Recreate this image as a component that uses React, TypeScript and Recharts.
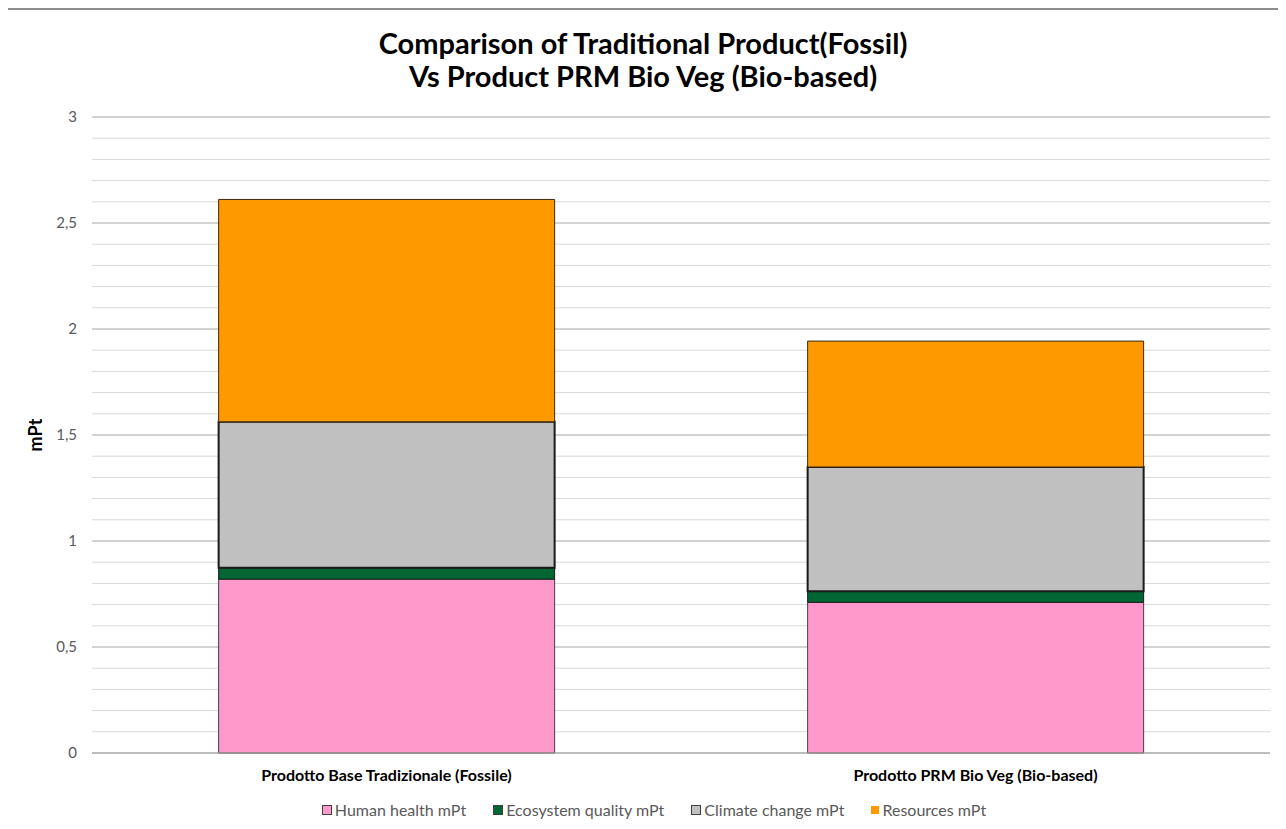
import React from 'react';
import { BarChart, Bar, XAxis, YAxis, CartesianGrid, Legend, Label } from 'recharts';

const categories = ['Prodotto Base Tradizionale (Fossile)', 'Prodotto PRM Bio Veg (Bio-based)'];
const humanHealth = [0.82, 0.711];
const ecosystemQuality = [0.054, 0.052];
const climateChange = [0.688, 0.586];
const resources = [1.049, 0.594];
const yTicks = [0, 0.1, 0.2, 0.3, 0.4, 0.5, 0.6, 0.7, 0.8, 0.9, 1, 1.1, 1.2, 1.3, 1.4, 1.5, 1.6, 1.7, 1.8, 1.9, 2, 2.1, 2.2, 2.3, 2.4, 2.5, 2.6, 2.7, 2.8, 2.9, 3];
const titleLines = ['Comparison of Traditional Product(Fossil)', 'Vs Product PRM Bio Veg (Bio-based)'];

const seriesDefs = [
  { key: 'hh', name: 'Human health mPt', color: '#FF99CC', stroke: '#404040', sw: 1 },
  { key: 'eq', name: 'Ecosystem quality mPt', color: '#006633', stroke: '#1a1a1a', sw: 1 },
  { key: 'cc', name: 'Climate change mPt', color: '#C0C0C0', stroke: '#1a1a1a', sw: 2 },
  { key: 'rs', name: 'Resources mPt', color: '#FF9900', stroke: '#3a2a10', sw: 1 },
];

const data = categories.map((c, i) => ({
  name: c,
  hh: humanHealth[i],
  eq: ecosystemQuality[i],
  cc: climateChange[i],
  rs: resources[i],
}));

const FONT = 'Lato, "Open Sans", sans-serif';

const isMajor = (v: number) => Math.abs(v * 2 - Math.round(v * 2)) < 1e-6;
const fmt = (v: number) => (isMajor(v) ? String(v).replace('.', ',') : '');

const LegendContent = () => (
  <div style={{ display: 'flex', justifyContent: 'center', fontFamily: FONT, fontSize: 16, color: '#595959', paddingLeft: 38, lineHeight: '20px' }}>
    {seriesDefs.map((s, i) => (
      <div key={s.key} style={{ display: 'flex', alignItems: 'center', marginRight: i === seriesDefs.length - 1 ? 0 : 27 }}>
        <span
          style={{
            display: 'inline-block',
            width: 8,
            height: 8,
            background: s.color,
            border: s.key === 'rs' ? 'none' : '1px solid #404040',
            marginRight: 3,
          }}
        />
        <span>{s.name}</span>
      </div>
    ))}
  </div>
);

const gridLine = (p: any) => (
  <line
    key={p.key ?? `g-${p.index}`}
    x1={p.x1}
    y1={p.y1}
    x2={p.x2}
    y2={p.y2}
    stroke={p.index % 5 === 0 ? '#a6a6a6' : '#d9d9d9'}
    strokeWidth={1}
  />
);

export default function App() {
  return (
    <div style={{ position: 'relative', width: 1286, height: 829, margin: -8, background: '#fff', overflow: 'hidden' }}>
      <div
        style={{
          position: 'absolute',
          left: 0,
          top: 26,
          width: 1286,
          textAlign: 'center',
          fontFamily: FONT,
          fontWeight: 'bold',
          fontSize: 29,
          lineHeight: '33px',
          color: '#000',
        }}
      >
        {titleLines.map((t) => (
          <div key={t}>{t}</div>
        ))}
      </div>
      <div style={{ position: 'absolute', left: 0, top: 0 }}>
        <BarChart
          width={1286}
          height={829}
          data={data}
          barCategoryGap="21.5%"
          margin={{ top: 117, right: 16, bottom: 26, left: 0 }}
        >
          <CartesianGrid vertical={false} horizontal={gridLine} />
          <XAxis
            dataKey="name"
            tickLine={false}
            axisLine={{ stroke: '#a6a6a6' }}
            tick={{ fill: '#000', fontSize: 16, fontWeight: 'bold', fontFamily: FONT }}
            tickMargin={11}
            interval={0}
          />
          <YAxis
            width={92}
            domain={[0, 3]}
            ticks={yTicks}
            interval={0}
            tickFormatter={fmt}
            axisLine={false}
            tickLine={false}
            tickSize={0}
            tickMargin={15}
            tick={{ fill: '#595959', fontSize: 15, fontFamily: FONT }}
          >
            <Label
              value="mPt"
              angle={-90}
              position="insideLeft"
              offset={36}
              style={{ fontWeight: 'bold', fontSize: 18, fill: '#000', fontFamily: FONT, textAnchor: 'middle' }}
            />
          </YAxis>
          <Legend verticalAlign="bottom" wrapperStyle={{ bottom: 9 }} content={<LegendContent />} />
          {seriesDefs.map((s) => (
            <Bar
              key={s.key}
              dataKey={s.key}
              name={s.name}
              stackId="a"
              fill={s.color}
              stroke={s.stroke}
              strokeWidth={s.sw}
              isAnimationActive={false}
            />
          ))}
        </BarChart>
      </div>
      <div
        style={{
          position: 'absolute',
          left: 4,
          top: 8,
          width: 1300,
          height: 900,
          borderLeft: '2px solid #8c8c8c',
          borderTop: '2px solid #8c8c8c',
          pointerEvents: 'none',
          zIndex: 5,
        }}
      />
    </div>
  );
}
